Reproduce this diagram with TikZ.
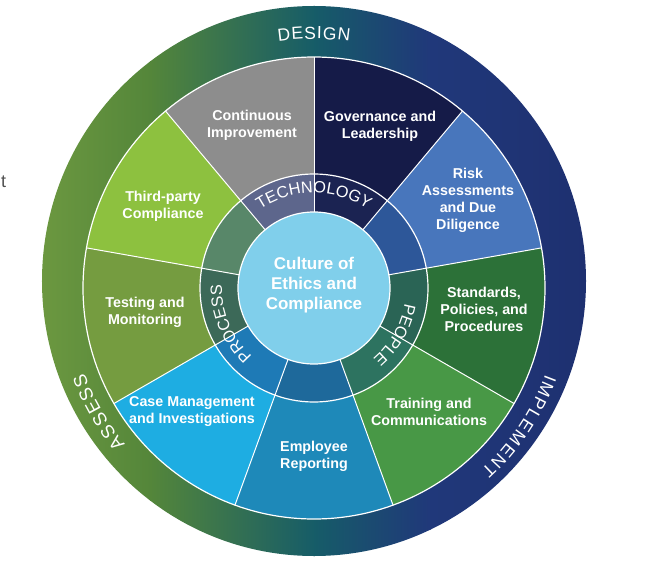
\documentclass[tikz,border=0pt]{standalone}
\usepackage{fontspec}
\setmainfont{Liberation Sans}
\newfontfamily\innerfnt{Liberation Sans}
\newfontfamily\outerfnt{Liberation Sans}
\usetikzlibrary{decorations.text}
\definecolor{ringA}{RGB}{108,152,64}
\definecolor{ringB}{RGB}{84,134,58}
\definecolor{ringC}{RGB}{22,92,104}
\definecolor{ringD}{RGB}{32,56,122}
\definecolor{ringE}{RGB}{30,48,112}
\definecolor{segGov}{RGB}{21,27,72}
\definecolor{segRisk}{RGB}{72,118,188}
\definecolor{segStd}{RGB}{44,113,56}
\definecolor{segTrn}{RGB}{72,152,70}
\definecolor{segEmp}{RGB}{30,137,185}
\definecolor{segCase}{RGB}{30,173,226}
\definecolor{segTest}{RGB}{117,156,64}
\definecolor{segThird}{RGB}{141,193,63}
\definecolor{segCI}{RGB}{141,141,141}
\definecolor{inGov}{RGB}{27,35,82}
\definecolor{inRisk}{RGB}{45,87,153}
\definecolor{inStd}{RGB}{42,100,85}
\definecolor{inTrn}{RGB}{45,115,96}
\definecolor{inEmp}{RGB}{30,105,155}
\definecolor{inCase}{RGB}{30,122,182}
\definecolor{inTest}{RGB}{60,105,88}
\definecolor{inThird}{RGB}{88,135,105}
\definecolor{inCI}{RGB}{93,102,140}
\definecolor{centerblue}{RGB}{128,207,235}
\definecolor{tgray}{RGB}{80,80,80}
\tikzset{
  segtext/.style={text=white, font=\bfseries\fontsize{14.3}{17}\selectfont, align=center, inner sep=0pt},
  sepline/.style={draw=white, line width=1pt},
  ringline/.style={draw=white, line width=1.2pt}
}
\newcommand\innerlbl{\innerfnt\fontsize{16.3}{16.3}\selectfont}
\newcommand\outerlbl{\outerfnt\fontsize{17.5}{17.5}\selectfont}
\newcommand\outerbig{\outerfnt\fontsize{18.5}{18.5}\selectfont}
\begin{document}
\begin{tikzpicture}[x=1pt,y=1pt]
\useasboundingbox (-314,-290) rectangle (354,288);
% outer ring with gradient
\begin{scope}
  \clip (0,7) ellipse [x radius=272, y radius=275];
  \shade[left color=ringA, right color=ringB] (-274,-275) rectangle (-163,290);
  \shade[left color=ringB, right color=ringC] (-164,-275) rectangle (1,290);
  \shade[left color=ringC, right color=ringD] (0,-275) rectangle (117,290);
  \shade[left color=ringD, right color=ringE] (116,-275) rectangle (274,290);
\end{scope}
% segments and inner ring
\foreach \a/\c/\d in {90/segGov/inGov, 50/segRisk/inRisk, 10/segStd/inStd, -30/segTrn/inTrn, -70/segEmp/inEmp, -110/segCase/inCase, -150/segTest/inTest, 170/segThird/inThird, 130/segCI/inCI}{
  \fill[\c] (0,0) -- (\a:231) arc[start angle=\a, delta angle=-40, radius=231] -- cycle;
  \fill[\d] (0,0) -- (\a:114) arc[start angle=\a, delta angle=-40, radius=114] -- cycle;
}
\fill[centerblue] (0,0) circle[radius=76];
\foreach \a in {90,50,10,-30,-70,-110,-150,170,130}{
  \draw[sepline] (\a:76) -- (\a:231);
}
\draw[ringline] (0,0) circle[radius=231];
\draw[ringline] (0,0) circle[radius=114];
\draw[ringline] (0,0) circle[radius=76];
% inner ring labels
\path[decorate, decoration={text along path, text={|\innerlbl|TECHNOLOGY}, text align=center, text color=white}]
  (150:95) arc[start angle=150, end angle=30, radius=95];
\path[decorate, decoration={text along path, text={|\innerlbl|PEOPLE}, text align=center, text color=white}]
  (30:92) arc[start angle=30, end angle=-90, radius=92];
\path[decorate, decoration={text along path, text={|\innerlbl|PROCESS}, text align=center, text color=white}]
  (263:92) arc[start angle=263, end angle=143, radius=92];
% outer ring labels
\path[decorate, decoration={text along path, text={|\outerlbl|D{\kern0.9pt}E{\kern0.9pt}S{\kern0.9pt}I{\kern0.9pt}G{\kern0.9pt}N}, text align=center, text color=white}]
  (150:249) arc[start angle=150, end angle=30, radius=249];
\path[decorate, decoration={text along path, text={|\outerbig|A{\kern1.6pt}S{\kern1.6pt}S{\kern1.6pt}E{\kern1.6pt}S{\kern1.6pt}S}, text align=center, text color=white}]
  (270:245) arc[start angle=270, end angle=150, radius=245];
\path[decorate, decoration={text along path, text={|\outerlbl|I{\kern1.8pt}M{\kern1.8pt}P{\kern1.8pt}L{\kern1.8pt}E{\kern1.8pt}M{\kern1.8pt}E{\kern1.8pt}N{\kern1.8pt}T}, text align=center, text color=white}]
  (26:247) arc[start angle=26, end angle=-94, radius=247];
% segment texts
\node[segtext] (ci) at (-62,163) {Continuous\\Improvement};
\node[segtext] (gov) at (66,162) {Governance and\\Leadership};
\node[segtext] (risk) at (154,88) {Risk\\Assessments\\and Due\\Diligence};
\node[segtext] (std) at (170,-21) {Standards,\\Policies, and\\Procedures};
\node[segtext] (trn) at (115,-124) {Training and\\Communications};
\node[segtext] (emp) at (0,-168) {Employee\\Reporting};
\node[segtext] (case) at (-122,-124) {Case Management\\and Investigations};
\node[segtext] (test) at (-169,-24) {Testing and\\Monitoring};
\node[segtext] (third) at (-151,82) {Third-party\\Compliance};
\node[text=white, font=\bfseries\fontsize{17}{20}\selectfont, align=center, inner sep=0pt] (culture) at (0,3) {Culture of\\Ethics and\\Compliance};
\node[anchor=base west, inner sep=0pt, text=tgray, font=\fontsize{18}{18}\selectfont] (tfrag) at (-313,100) {t};
\end{tikzpicture}
\end{document}
